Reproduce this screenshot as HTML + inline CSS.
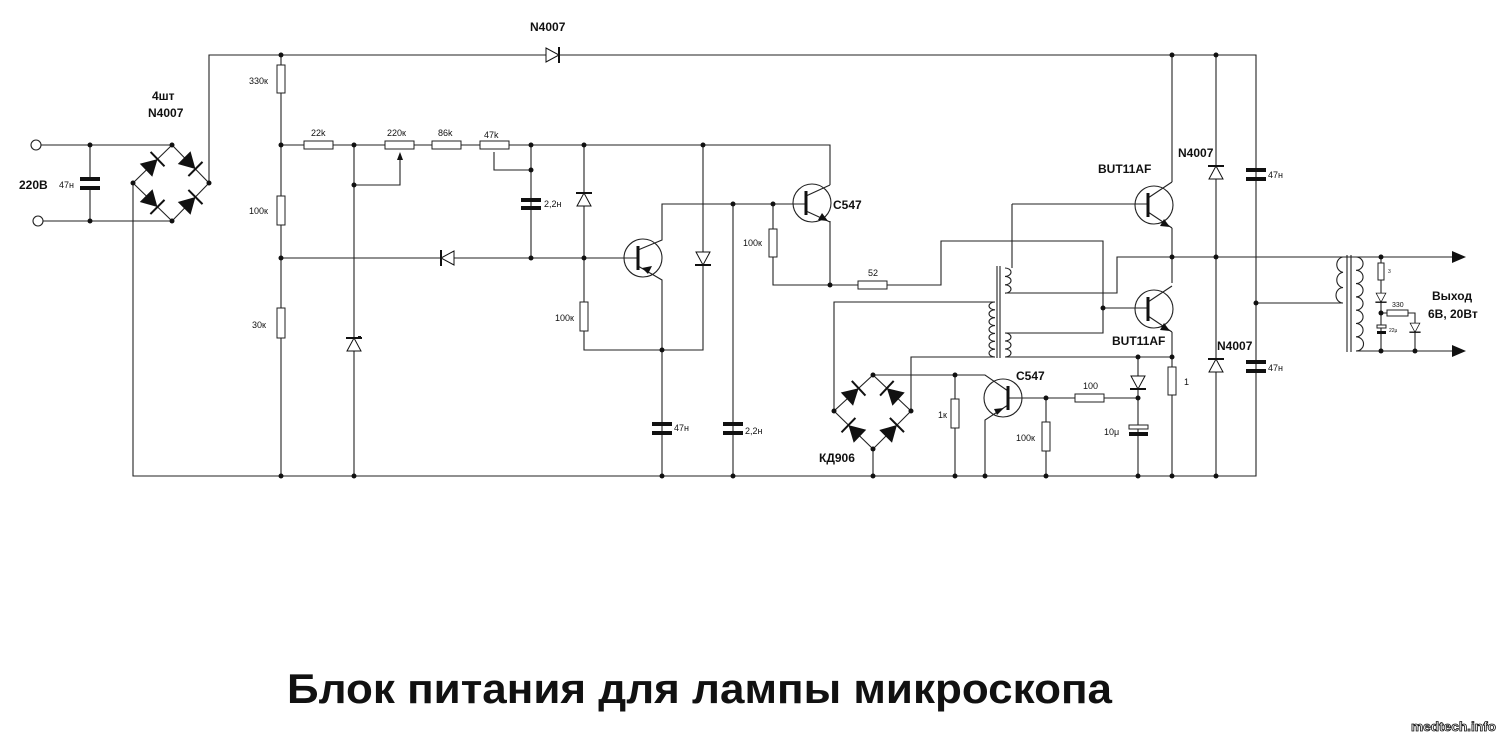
<!DOCTYPE html>
<html><head><meta charset="utf-8"><style>
html,body{margin:0;padding:0;background:#fff;}
svg{display:block;}
text{font-family:"Liberation Sans",sans-serif;fill:#111;}
.s{font-size:9px;}
.b{font-size:12px;font-weight:bold;}
</style></head><body>
<svg width="1499" height="735" viewBox="0 0 1499 735" xmlns="http://www.w3.org/2000/svg">
<defs>
<g id="dF"><polygon points="-9,-9 -9,9 7,0" fill="#111"/><line x1="7" y1="-10" x2="7" y2="10" stroke="#111" stroke-width="2"/></g>
<g id="dO"><polygon points="-7,-7 -7,7 6,0" fill="#fff" stroke="#111"/><line x1="6" y1="-8" x2="6" y2="8" stroke="#111" stroke-width="2"/></g>
</defs>
<g stroke="#222" stroke-width="1.1" fill="none">
<circle cx="36" cy="145" r="5"/><circle cx="38" cy="221" r="5"/>
<path d="M41 145H172M43 221H172M90 145V179M90 187V221"/>
<path d="M172 145L209 183L172 221L133 183Z"/>
<path d="M209 183V55H1256V476H133V183"/>
<path d="M281 55V476"/>
<path d="M281 145H830V185"/>
<path d="M354 145V476M354 185H400V156"/>
<path d="M494 152V170H531"/>
<path d="M531 145V258M281 258H638"/>
<path d="M584 145V350H703V145"/>
<path d="M638 250L662 240V204H806M638 266L662 280V476"/>
<path d="M733 204V476M773 204V285H830V221"/>
<path d="M806 196L830 185M806 211L830 222"/>
<path d="M830 285H941V241H1103V333H1005"/>
<path d="M1012 204V268M1005 293H1117V257H1452"/>
<path d="M1012 204H1148"/>
<path d="M1103 308H1148"/>
<path d="M834 411V302H995M995 357H911V411"/>
<path d="M1005 357H1172"/>
<path d="M873 375L911 411L873 449L834 411Z"/>
<path d="M873 375H985L1008 391M873 449V476M955 375V476"/>
<path d="M1008 405L985 420V476M1008 398H1138M1046 398V476M1138 357V476"/>
<path d="M1172 55V182M1172 228V283M1172 332V476"/>
<path d="M1148 198L1172 182M1148 212L1172 228M1148 302L1172 286M1148 316L1172 332"/>
<path d="M1216 55V476"/>
<path d="M1256 303H1343"/>
<path d="M1357 257H1452M1357 351H1452M1381 257V351M1381 313H1415V351"/>
<path d="M997 266V358M1000 266V358M1347 255V352M1351 255V352"/>
<path d="M1005 268a6 4.2 0 0 1 0 8.4a6 4.2 0 0 1 0 8.4a6 4.2 0 0 1 0 8.4"/>
<path d="M1005 333a6 4 0 0 1 0 8a6 4 0 0 1 0 8a6 4 0 0 1 0 8"/>
<path d="M995 302a6 3.93 0 0 0 0 7.86a6 3.93 0 0 0 0 7.86a6 3.93 0 0 0 0 7.86a6 3.93 0 0 0 0 7.86a6 3.93 0 0 0 0 7.86a6 3.93 0 0 0 0 7.86a6 3.93 0 0 0 0 7.86"/>
<path d="M1343 257a7 7.7 0 0 0 0 15.3a7 7.7 0 0 0 0 15.3a7 7.7 0 0 0 0 15.4"/>
<path d="M1356 257a7 6.6 0 0 1 0 13.3a7 6.6 0 0 1 0 13.3a7 6.6 0 0 1 0 13.3a7 6.6 0 0 1 0 13.3a7 6.6 0 0 1 0 13.3a7 6.6 0 0 1 0 13.3a7 6.6 0 0 1 0 14.2"/>
<circle cx="643" cy="258" r="19"/><circle cx="812" cy="203" r="19"/>
<circle cx="1154" cy="205" r="19"/><circle cx="1154" cy="309" r="19"/>
<circle cx="1003" cy="398" r="19"/>
</g>
<g stroke="#111" stroke-width="3">
<path d="M638 246V270M806 191V215M1148 193V217M1148 297V321M1008 386V410"/>
</g>
<g fill="#111">
<polygon points="642,268 652,266 648,274"/>
<polygon points="828,221 818,220 822,213"/>
<polygon points="1170,227 1160,226 1164,219"/>
<polygon points="1170,331 1160,330 1164,323"/>
<polygon points="1004,408 994,409 997,415"/>
<polygon points="1452,251 1452,263 1466,257"/>
<polygon points="1452,345 1452,357 1466,351"/>
</g>
<g fill="#fff" stroke="#222" stroke-width="1">
<rect x="277" y="65" width="8" height="28"/><rect x="277" y="196" width="8" height="29"/><rect x="277" y="308" width="8" height="30"/>
<rect x="304" y="141" width="29" height="8"/><rect x="385" y="141" width="29" height="8"/><rect x="432" y="141" width="29" height="8"/><rect x="480" y="141" width="29" height="8"/>
<rect x="580" y="302" width="8" height="29"/><rect x="769" y="229" width="8" height="28"/>
<rect x="858" y="281" width="29" height="8"/>
<rect x="951" y="399" width="8" height="29"/><rect x="1042" y="422" width="8" height="29"/>
<rect x="1075" y="394" width="29" height="8"/><rect x="1168" y="367" width="8" height="28"/>
<rect x="1378" y="263" width="6" height="17"/><rect x="1387" y="310" width="21" height="6"/>
<rect x="1129" y="425" width="19" height="4"/>
<rect x="1377" y="325" width="9" height="3"/>
</g>
<g fill="#111">
<rect x="80" y="177" width="20" height="4"/><rect x="80" y="186" width="20" height="4"/>
<rect x="521" y="198" width="20" height="4"/><rect x="521" y="206" width="20" height="4"/>
<rect x="652" y="422" width="20" height="4"/><rect x="652" y="431" width="20" height="4"/>
<rect x="723" y="422" width="20" height="4"/><rect x="723" y="431" width="20" height="4"/>
<rect x="1246" y="168" width="20" height="4"/><rect x="1246" y="177" width="20" height="4"/>
<rect x="1246" y="360" width="20" height="4"/><rect x="1246" y="369" width="20" height="4"/>
<rect x="1129" y="432" width="19" height="4"/>
<rect x="1377" y="331" width="9" height="3"/>
<polygon points="400,152 397,160 403,160"/>
</g>
<rect x="79" y="182" width="22" height="3" fill="#fff"/>
<use href="#dF" transform="translate(152.5,164) rotate(-44)"/>
<use href="#dF" transform="translate(190.5,164) rotate(45)"/>
<use href="#dF" transform="translate(152.5,202) rotate(45)"/>
<use href="#dF" transform="translate(190.5,202) rotate(-45)"/>
<use href="#dF" transform="translate(853.5,393) rotate(-43)"/>
<use href="#dF" transform="translate(892,393) rotate(-137)"/>
<use href="#dF" transform="translate(853.5,430) rotate(-136)"/>
<use href="#dF" transform="translate(892,430) rotate(-45)"/>
<use href="#dO" transform="translate(553,55)"/>
<use href="#dO" transform="translate(447,258) rotate(180)"/>
<use href="#dO" transform="translate(584,199) rotate(-90)"/>
<use href="#dO" transform="translate(703,259) rotate(90)"/>
<use href="#dO" transform="translate(1138,383) rotate(90)"/>
<use href="#dO" transform="translate(1216,172) rotate(-90)"/>
<use href="#dO" transform="translate(1216,365) rotate(-90)"/>
<use href="#dO" transform="translate(354,344) rotate(-90)"/>
<g transform="translate(1381,298) rotate(90) scale(0.7)"><polygon points="-7,-7 -7,7 6,0" fill="#fff" stroke="#111"/><line x1="6" y1="-8" x2="6" y2="8" stroke="#111" stroke-width="2"/></g>
<g transform="translate(1415,328) rotate(90) scale(0.7)"><polygon points="-7,-7 -7,7 6,0" fill="#fff" stroke="#111"/><line x1="6" y1="-8" x2="6" y2="8" stroke="#111" stroke-width="2"/></g>
<path d="M361 337h-3" stroke="#111" stroke-width="2"/>
<g fill="#111">
<circle cx="281" cy="55" r="2.5"/><circle cx="1172" cy="55" r="2.5"/><circle cx="1216" cy="55" r="2.5"/>
<circle cx="90" cy="145" r="2.5"/><circle cx="90" cy="221" r="2.5"/>
<circle cx="172" cy="145" r="2.5"/><circle cx="172" cy="221" r="2.5"/><circle cx="133" cy="183" r="2.5"/><circle cx="209" cy="183" r="2.5"/>
<circle cx="281" cy="145" r="2.5"/><circle cx="354" cy="145" r="2.5"/><circle cx="531" cy="145" r="2.5"/><circle cx="584" cy="145" r="2.5"/><circle cx="703" cy="145" r="2.5"/>
<circle cx="354" cy="185" r="2.5"/><circle cx="531" cy="170" r="2.5"/>
<circle cx="281" cy="258" r="2.5"/><circle cx="531" cy="258" r="2.5"/><circle cx="584" cy="258" r="2.5"/>
<circle cx="662" cy="350" r="2.5"/><circle cx="733" cy="204" r="2.5"/><circle cx="773" cy="204" r="2.5"/><circle cx="830" cy="285" r="2.5"/>
<circle cx="281" cy="476" r="2.5"/><circle cx="354" cy="476" r="2.5"/><circle cx="662" cy="476" r="2.5"/><circle cx="733" cy="476" r="2.5"/>
<circle cx="873" cy="476" r="2.5"/><circle cx="955" cy="476" r="2.5"/><circle cx="985" cy="476" r="2.5"/><circle cx="1046" cy="476" r="2.5"/><circle cx="1138" cy="476" r="2.5"/><circle cx="1172" cy="476" r="2.5"/><circle cx="1216" cy="476" r="2.5"/>
<circle cx="873" cy="375" r="2.5"/><circle cx="834" cy="411" r="2.5"/><circle cx="911" cy="411" r="2.5"/><circle cx="873" cy="449" r="2.5"/>
<circle cx="955" cy="375" r="2.5"/><circle cx="1046" cy="398" r="2.5"/><circle cx="1138" cy="398" r="2.5"/><circle cx="1138" cy="357" r="2.5"/><circle cx="1172" cy="357" r="2.5"/>
<circle cx="1103" cy="308" r="2.5"/><circle cx="1172" cy="257" r="2.5"/><circle cx="1216" cy="257" r="2.5"/><circle cx="1256" cy="303" r="2.5"/>
<circle cx="1381" cy="257" r="2.5"/><circle cx="1381" cy="313" r="2.5"/><circle cx="1381" cy="351" r="2.5"/><circle cx="1415" cy="351" r="2.5"/>
</g>
<text class="b" x="530" y="31">N4007</text>
<text class="b" x="152" y="100">4шт</text>
<text class="b" x="148" y="117">N4007</text>
<text class="b" x="19" y="189">220В</text>
<text class="s" x="59" y="188">47н</text>
<text class="s" x="249" y="84">330к</text>
<text class="s" x="249" y="214">100к</text>
<text class="s" x="252" y="328">30к</text>
<text class="s" x="311" y="136">22k</text>
<text class="s" x="387" y="136">220к</text>
<text class="s" x="438" y="136">86k</text>
<text class="s" x="484" y="138">47k</text>
<text class="s" x="544" y="207">2,2н</text>
<text class="s" x="555" y="321">100к</text>
<text class="s" x="743" y="246">100к</text>
<text class="b" x="833" y="209">C547</text>
<text class="s" x="868" y="276">52</text>
<text class="s" x="674" y="431">47н</text>
<text class="s" x="745" y="434">2,2н</text>
<text class="b" x="819" y="462">КД906</text>
<text class="s" x="938" y="418">1к</text>
<text class="b" x="1016" y="380">C547</text>
<text class="s" x="1016" y="441">100к</text>
<text class="s" x="1083" y="389">100</text>
<text class="s" x="1104" y="435">10μ</text>
<text class="s" x="1184" y="385">1</text>
<text class="b" x="1098" y="173">BUT11AF</text>
<text class="b" x="1112" y="345">BUT11AF</text>
<text class="b" x="1178" y="157">N4007</text>
<text class="b" x="1217" y="350">N4007</text>
<text class="s" x="1268" y="178">47н</text>
<text class="s" x="1268" y="371">47н</text>
<text style="font-size:5px" x="1388" y="273">3</text>
<text style="font-size:7px" x="1392" y="307">330</text>
<text style="font-size:5px" x="1389" y="332">22μ</text>
<text class="b" x="1432" y="300">Выход</text>
<text class="b" x="1428" y="318">6В, 20Вт</text>
<text x="287" y="703" textLength="825" lengthAdjust="spacingAndGlyphs" style="font-size:42px;font-weight:bold;">Блок питания для лампы микроскопа</text>
<text x="1411" y="731" textLength="85" lengthAdjust="spacingAndGlyphs" style="font-size:13px;font-weight:bold;fill:#fff;stroke:#111;stroke-width:0.8px;">medtech.info</text>
</svg>
</body></html>
